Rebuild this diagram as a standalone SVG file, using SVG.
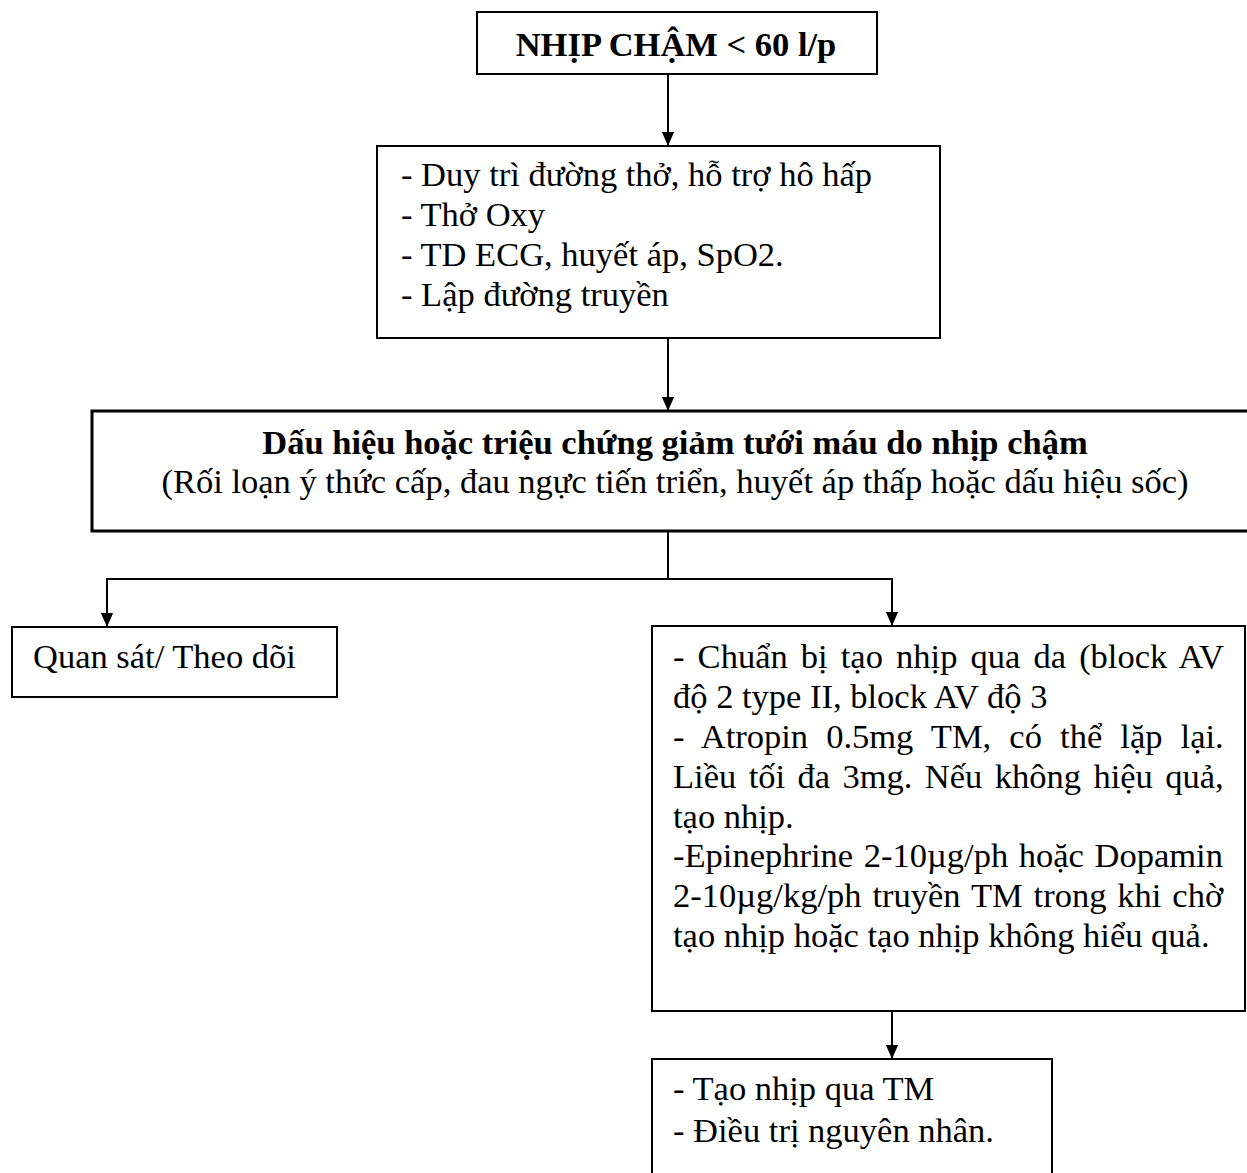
<svg xmlns="http://www.w3.org/2000/svg" width="1247" height="1173" viewBox="0 0 1247 1173">
<defs>
<marker id="ah" markerUnits="userSpaceOnUse" markerWidth="14" markerHeight="16" refX="16" refY="7" orient="auto" viewBox="0 0 16 14">
<path d="M0,0 L16,7 L0,14 Z" fill="#000"/>
</marker>
<style>
.box{fill:#fff;stroke:#000;stroke-width:2}
.thick{fill:#fff;stroke:#000;stroke-width:3}
.t{font-family:"Liberation Serif","Times New Roman",serif;font-size:34.5px;fill:#000}
.b{font-weight:bold}
.c{fill:none;stroke:#000;stroke-width:2}
</style>
</defs>
<rect width="1247" height="1173" fill="#fff"/>

<g id="connectors">
<path class="c" d="M668,74 V146" marker-end="url(#ah)"/>
<path class="c" d="M668,338 V411" marker-end="url(#ah)"/>
<path class="c" d="M668,531 V579"/>
<path class="c" d="M668,579 H107 V627" marker-end="url(#ah)"/>
<path class="c" d="M668,579 H892 V626" marker-end="url(#ah)"/>
<path class="c" d="M892,1011 V1059" marker-end="url(#ah)"/>
</g>

<g id="n1">
<rect class="box" x="477" y="12" width="400" height="62"/>
<text class="t b" x="676" y="56" text-anchor="middle">NHỊP CHẬM &lt; 60 l/p</text>
</g>

<g id="n2">
<rect class="box" x="377" y="146" width="563" height="192"/>
<text class="t" x="401" y="186">- Duy trì đường thở, hỗ trợ hô hấp</text>
<text class="t" x="401" y="226">- Thở Oxy</text>
<text class="t" x="401" y="266">- TD ECG, huyết áp, SpO2.</text>
<text class="t" x="401" y="306">- Lập đường truyền</text>
</g>

<g id="n3">
<rect class="thick" x="92" y="411" width="1170" height="120"/>
<text class="t b" x="675" y="454" text-anchor="middle">Dấu hiệu hoặc triệu chứng giảm tưới máu do nhịp chậm</text>
<text class="t" x="675" y="493" text-anchor="middle">(Rối loạn ý thức cấp, đau ngực tiến triển, huyết áp thấp hoặc dấu hiệu sốc)</text>
</g>

<g id="n4">
<rect class="box" x="12" y="627" width="325" height="70"/>
<text class="t" x="33" y="668">Quan sát/ Theo dõi</text>
</g>

<g id="n5">
<rect class="box" x="652" y="626" width="593" height="385"/>
<text class="t" x="673" y="668" word-spacing="4.5">- Chuẩn bị tạo nhịp qua da (block AV</text>
<text class="t" x="673" y="708">độ 2 type II, block AV độ 3</text>
<text class="t" x="673" y="748" word-spacing="9.5">- Atropin 0.5mg TM, có thể lặp lại.</text>
<text class="t" x="673" y="788" word-spacing="3.8">Liều tối đa 3mg. Nếu không hiệu quả,</text>
<text class="t" x="673" y="828">tạo nhịp.</text>
<text class="t" x="673" y="867" word-spacing="2">-Epinephrine 2-10µg/ph hoặc Dopamin</text>
<text class="t" x="673" y="907" word-spacing="2.3">2-10µg/kg/ph truyền TM trong khi chờ</text>
<text class="t" x="673" y="947">tạo nhịp hoặc tạo nhịp không hiểu quả.</text>
</g>

<g id="n6">
<rect class="box" x="652" y="1059" width="400" height="130"/>
<text class="t" x="673" y="1100">- Tạo nhịp qua TM</text>
<text class="t" x="673" y="1142">- Điều trị nguyên nhân.</text>
</g>
</svg>
